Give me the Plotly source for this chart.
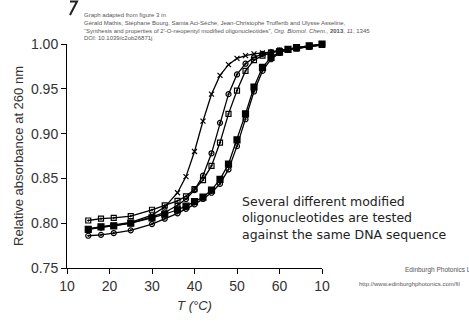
import plotly.graph_objects as go

T = [15, 18, 21, 25, 30, 33, 36, 38, 40, 42, 44, 46, 48, 50, 52, 54, 56, 58, 60, 62, 64, 67, 70]

cross_vals = [0.794, 0.796, 0.798, 0.801, 0.809, 0.818, 0.834, 0.852, 0.880, 0.914, 0.944, 0.965, 0.977, 0.984, 0.987, 0.989, 0.990, 0.991, 0.993, 0.994, 0.995, 0.997, 0.999]
circdot_vals = [0.793, 0.795, 0.797, 0.800, 0.807, 0.812, 0.820, 0.827, 0.837, 0.853, 0.878, 0.912, 0.944, 0.966, 0.978, 0.985, 0.989, 0.991, 0.993, 0.994, 0.995, 0.997, 0.999]
square_vals = [0.803, 0.805, 0.806, 0.808, 0.815, 0.820, 0.825, 0.830, 0.838, 0.848, 0.864, 0.890, 0.922, 0.948, 0.970, 0.982, 0.987, 0.990, 0.992, 0.994, 0.995, 0.997, 0.999]
fsquare_vals = [0.793, 0.796, 0.797, 0.800, 0.806, 0.810, 0.815, 0.819, 0.824, 0.829, 0.837, 0.849, 0.866, 0.893, 0.922, 0.952, 0.974, 0.985, 0.991, 0.994, 0.996, 0.998, 1.000]
circle_vals = [0.786, 0.787, 0.789, 0.792, 0.799, 0.805, 0.811, 0.816, 0.821, 0.827, 0.834, 0.844, 0.860, 0.886, 0.916, 0.947, 0.970, 0.983, 0.990, 0.994, 0.996, 0.998, 1.000]

series = [
    ("crosses", cross_vals, "x-thin-open", 5),
    ("circle-dot", circdot_vals, "circle-open-dot", 5),
    ("squares", square_vals, "square-open-dot", 5),
    ("filled squares", fsquare_vals, "square", 6),
    ("circles", circle_vals, "circle-open-dot", 5),
]

x_tickvals = [10, 20, 30, 40, 50, 60, 70]
x_ticktext = ["10", "20", "30", "40", "50", "60", "10"]
y_tickvals = [0.75, 0.80, 0.85, 0.90, 0.95, 1.00]
y_ticktext = ["0.75", "0.80", "0.85", "0.90", "0.95", "1.00"]

fig = go.Figure()
for name, vals, sym, sz in series:
    fig.add_trace(go.Scatter(
        x=T, y=vals, name=name, mode="lines+markers",
        line=dict(color="black", width=1.3),
        marker=dict(symbol=sym, size=sz, color="black", line=dict(color="black", width=1.2)),
        cliponaxis=False, showlegend=False))

W, H = 469, 323
L, R, TOP, B = 67, 147, 44, 47
pw, ph = W - L - R, H - TOP - B
def px(xp): return (xp - L) / pw
def py(yp): return (H - B - yp) / ph

fig.update_layout(
    width=W, height=H,
    margin=dict(l=L, r=R, t=TOP, b=B),
    paper_bgcolor="white", plot_bgcolor="white",
    font=dict(family="Liberation Sans, Arial, sans-serif", color="#333333", size=14),
    xaxis=dict(range=[10, 70], tickvals=x_tickvals, ticktext=x_ticktext,
               showgrid=False, zeroline=False, showline=True, linecolor="black", linewidth=1,
               ticks="outside", ticklen=5, tickcolor="black", tickfont=dict(size=14, color="#333"),
               title=dict(text="<i>T (°C)</i>", font=dict(size=13, color="#333"), standoff=8)),
    yaxis=dict(range=[0.75, 1.00], tickvals=y_tickvals, ticktext=y_ticktext,
               showgrid=False, zeroline=False, showline=True, linecolor="black", linewidth=1,
               ticks="outside", ticklen=5, tickcolor="black", tickfont=dict(size=14, color="#333"),
               title=dict(text="Relative absorbance at 260 nm", font=dict(size=13, color="#333"), standoff=4)),
)

cite = ("Graph adapted from figure 3 in<br>"
        "Gérald Mathis, Stéphane Bourg, Samia Aci-Sèche, Jean-Christophe Truffertb and Ulysse Asseline,<br>"
        "\u201cSynthesis and properties of 2\u2032-O-neopentyl modified oligonucleotides\u201d, <i>Org. Biomol. Chem.</i>, <b>2013</b>, <i>11</i>, 1345<br>"
        "DOI: 10.1039/c2ob26871j")

common = dict(xref="paper", yref="paper", showarrow=False, align="left", xanchor="left")
fig.add_annotation(x=px(82), y=py(9), text=cite, yanchor="top",
                   font=dict(size=6, color="#555555"), **common)
fig.add_annotation(x=px(240), y=py(197), yanchor="top",
                   text="Several different modified<br>oligonucleotides are tested<br>against the same DNA sequence",
                   font=dict(size=12.5, color="#222222", family="DejaVu Sans, sans-serif"), **common)
fig.add_annotation(x=px(403), y=py(278), yanchor="middle", text="Edinburgh Photonics L",
                   font=dict(size=6.5, color="#555555"), **common)
fig.add_annotation(x=px(357), y=py(293), yanchor="middle", text="http://www.edinburghphotonics.com/fil",
                   font=dict(size=6, color="#555555"), **common)

# stroke of a cropped glyph at the top-left edge
fig.add_shape(type="path", xref="paper", yref="paper",
              path=f"M {px(70)} {py(0)} L {px(77)} {py(0)} L {px(70)} {py(14)}",
              line=dict(color="#222222", width=2))

fig.write_html("out.html")
